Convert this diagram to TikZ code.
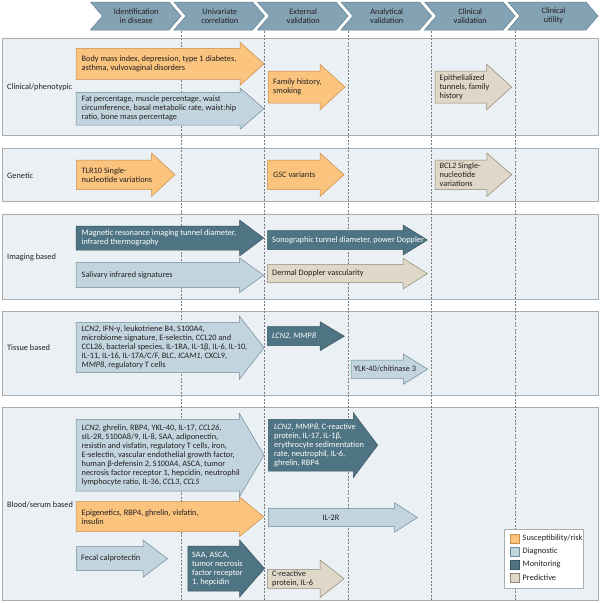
\documentclass[tikz,border=0pt]{standalone}
\usepackage{fontspec}
\setmainfont{Carlito}
\definecolor{panelbg}{HTML}{EBF0F4}
\definecolor{panelline}{HTML}{A7AFB4}
\definecolor{riskfill}{HTML}{FAC37E}
\definecolor{riskline}{HTML}{C98B4B}
\definecolor{diagfill}{HTML}{C2D5DF}
\definecolor{diagline}{HTML}{6E8C9B}
\definecolor{monfill}{HTML}{4F7483}
\definecolor{monline}{HTML}{3A5662}
\definecolor{predfill}{HTML}{DFD7C7}
\definecolor{predline}{HTML}{8E8677}
\definecolor{chevfill}{HTML}{83A2B4}
\definecolor{chevline}{HTML}{5F7F91}
\definecolor{textdark}{HTML}{231F20}
\definecolor{dashgray}{HTML}{7A7A7A}
\newcommand\fs{\fontsize{8.3}{9}\selectfont}
\newcommand\barr[8]{\path[#1] (#2,#3) -- (#5,#3) -- (#5,#6) -- (#8,{(#3+#4)/2}) -- (#5,#7) -- (#5,#4) -- (#2,#4) -- cycle;}
\newcommand\chevron[3]{\path[chev] ({#1-7},2) -- ({#2-12},2) -- (#2,16) -- ({#2-12},30) -- ({#1-7},30) -- ({#1+5},16) -- cycle;
  \node[htxt] (#3) at ({(#1+#2)/2-3},16) {\csname hd#3\endcsname};}
\tikzset{
  panel/.style={fill=panelbg, draw=panelline, line width=0.6pt},
  risk/.style={fill=riskfill, draw=riskline, line width=0.5pt},
  diag/.style={fill=diagfill, draw=diagline, line width=0.5pt},
  mon/.style={fill=monfill, draw=monline, line width=0.5pt},
  pred/.style={fill=predfill, draw=predline, line width=0.5pt},
  chev/.style={fill=chevfill, draw=chevline, line width=0.5pt},
  txt/.style={font=\fs, text=textdark, inner sep=0pt, align=left, anchor=west},
  wtxt/.style={txt, text=white},
  htxt/.style={font=\fs, text=textdark, inner sep=0pt, align=center},
  lbl/.style={font=\fs, text=textdark, inner sep=0pt, anchor=west},
  vline/.style={draw=dashgray, line width=0.5pt, dash pattern=on 2pt off 1.5pt},
}
\newcommand\hdha{Identification\\in disease}
\newcommand\hdhb{Univariate\\correlation}
\newcommand\hdhc{External\\validation}
\newcommand\hdhd{Analytical\\validation}
\newcommand\hdhe{Clinical\\validation}
\newcommand\hdhf{Clinical\\utility}
\begin{document}
\begin{tikzpicture}[x=1pt,y=-1pt]
\useasboundingbox (0,0) rectangle (601,603);
% header chevrons
\chevron{97.5}{181}{ha}
\chevron{181}{264.5}{hb}
\chevron{264.5}{348}{hc}
\chevron{348}{431.5}{hd}
\chevron{431.5}{515}{he}
\chevron{515}{598}{hf}
% panels
\path[panel] (2.5,38.3) rectangle (598,135);
\path[panel] (2.5,148.5) rectangle (598,201.7);
\path[panel] (2.5,214) rectangle (598,299);
\path[panel] (2.5,311.7) rectangle (598,395);
\path[panel] (2.5,407) rectangle (598,600.5);
% dashed column lines
\foreach \xx in {181,264.5,348,431.5,515} \path[vline] (\xx,31) -- (\xx,600.5);
% row labels
\node[lbl] (lclin) at (7,87) {Clinical/phenotypic};
\node[lbl] (lgen) at (7,176) {Genetic};
\node[lbl] (limg) at (7,257) {Imaging based};
\node[lbl] (ltis) at (7,347.7) {Tissue based};
\node[lbl] (lblood) at (7,505) {Blood/serum based};
% clinical
\barr{risk}{76}{48.3}{79.3}{240}{42.3}{85.3}{264}
\node[txt] (a1) at (81.5,63.8) {Body mass index, depression, type 1 diabetes,\\asthma, vulvovaginal disorders};
\barr{diag}{76}{92.3}{125}{240}{88}{129.3}{264}
\node[txt] (a2) at (81.5,108.7) {Fat percentage, muscle percentage, waist\\circumference, basal metabolic rate, waist:hip\\ratio, bone mass percentage};
\barr{risk}{268.3}{71}{103}{320}{64.3}{109.7}{345}
\node[txt] (a3) at (273,87) {Family history,\\smoking};
\barr{pred}{435}{71}{103}{486.7}{64.3}{109.7}{511.7}
\node[txt] (a4) at (439.5,87) {Epithelialized\\tunnels, family\\history};
% genetic
\barr{risk}{76.5}{160}{189.5}{151.5}{153}{196.5}{175}
\node[txt] (g1) at (81.5,174.75) {TLR10 Single-\\nucleotide variations};
\barr{risk}{267.5}{160}{189.5}{320}{153}{196.5}{344}
\node[txt] (g2) at (273,174.75) {\textit{GSC} variants};
\barr{pred}{435}{160}{189.5}{486.8}{153}{196.5}{511.7}
\node[txt] (g3) at (439.5,174.75) {\textit{BCL2} Single-\\nucleotide\\variations};
% imaging
\barr{mon}{76}{226}{250}{239.6}{220}{256}{263.7}
\node[wtxt] (i1) at (81.5,238) {Magnetic resonance imaging tunnel diameter,\\infrared thermography};
\barr{mon}{267.5}{230.5}{249.5}{403}{225}{255}{427.4}
\node[wtxt] (i2) at (272,240) {Sonographic tunnel diameter, power Doppler};
\barr{diag}{76}{262.7}{287.7}{239.6}{258}{292.4}{263.7}
\node[txt] (i3) at (81.5,275.2) {Salivary infrared signatures};
\barr{pred}{267.5}{264.5}{282.7}{403}{258.3}{288.9}{427.4}
\node[txt] (i4) at (272,273.6) {Dermal Doppler vascularity};
% tissue
\barr{diag}{76}{322.7}{372.7}{239.3}{316}{379.4}{264}
\node[txt] (t1) at (81.5,347.7) {\textit{LCN2}, IFN-γ, leukotriene B4, S100A4,\\microbiome signature, E-selectin, CCL20 and\\CCL26, bacterial species, IL-1RA, IL-1β, IL-6, IL-10,\\IL-11, IL-16, IL-17A/C/F, BLC, \textit{ICAM1}, CXCL9,\\\textit{MMP8}, regulatory T cells};
\barr{mon}{267.3}{326.7}{345.7}{320}{321.7}{350.7}{344.3}
\node[wtxt] (t2) at (272,336.2) {\textit{LCN2, MMP8}};
\barr{diag}{351}{360}{378.3}{403.3}{354}{384.3}{427.7}
\node[txt] (t3) at (354,369.2) {YLK-40/chitinase 3};
% blood
\barr{diag}{76}{419.3}{491}{239.3}{413.3}{497}{264}
\node[txt] (b1) at (81.5,455.15) {\textit{LCN2}, ghrelin, RBP4, YKL-40, IL-17, \textit{CCL26},\\sIL-2R, S100A8/9, IL-8, SAA, adiponectin,\\resistin and visfatin, regulatory T cells, iron,\\E-selectin, vascular endothelial growth factor,\\human β-defensin 2, S100A4, ASCA, tumor\\necrosis factor receptor 1, hepcidin, neutrophil\\lymphocyte ratio, IL-36, \textit{CCL3}, \textit{CCL5}};
\barr{mon}{268.3}{419.3}{471}{353.3}{412.7}{477.6}{377.7}
\node[wtxt] (b2) at (274,445.15) {\textit{LCN2}, \textit{MMP8}, C-reactive\\protein, IL-17, IL-1β,\\erythrocyte sedimentation\\rate, neutrophil, IL-6,\\ghrelin, RBP4};
\barr{risk}{76}{501.7}{531.7}{239.6}{497}{536.4}{263.7}
\node[txt] (b3) at (81.5,516.7) {Epigenetics, RBP4, ghrelin, visfatin,\\insulin};
\barr{diag}{268.3}{508.3}{526.7}{394.5}{502.7}{532.3}{417.3}
\node[htxt] (b4) at (331,517.5) {IL-2R};
\barr{diag}{76.7}{546.7}{570.7}{143}{540}{577.4}{167.5}
\node[txt] (b5) at (81,558.7) {Fecal calprotectin};
\barr{mon}{187.8}{546}{591}{239.6}{540}{597}{264.5}
\node[wtxt] (b6) at (192,568.5) {SAA, ASCA,\\tumor necrosis\\factor receptor\\1, hepcidin};
\barr{pred}{267.5}{569.3}{588.3}{320}{560}{597.6}{344.2}
\node[txt] (b7) at (272,578.8) {C-reactive\\protein, IL-6};
% legend
\path[fill=white, draw=panelline, line width=0.6pt] (504,529) rectangle (583,588);
\path[risk] (510,534) rectangle (519,543);
\node[lbl] (k1) at (522.5,538.5) {Susceptibility/risk};
\path[diag] (510,547) rectangle (519,556);
\node[lbl] (k2) at (522.5,551.5) {Diagnostic};
\path[mon] (510,560) rectangle (519,569);
\node[lbl] (k3) at (522.5,564.5) {Monitoring};
\path[pred] (510,573) rectangle (519,582);
\node[lbl] (k4) at (522.5,577.5) {Predictive};
\end{tikzpicture}
\end{document}
